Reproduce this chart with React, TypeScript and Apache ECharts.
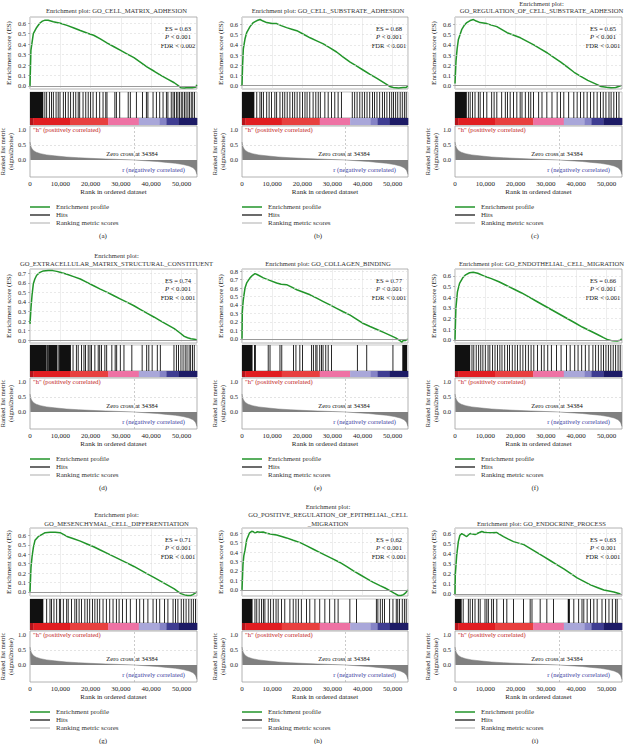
import React, { useEffect, useRef } from "react";
import * as echarts from "echarts";

// ---------------- data ----------------
const rankMax = 55100;
const xTickValues = [0, 10000, 20000, 30000, 40000, 50000];
const zeroCross = 34384;

// ranked list metric (rank in thousands, signal2noise)
const rankedMetric: number[][] = [
  [0, 0.6], [0.15, 0.5], [0.5, 0.4], [1.1, 0.32], [2.0, 0.26], [3.5, 0.21], [5.5, 0.17],
  [8.0, 0.14], [12.0, 0.1], [16.0, 0.075], [20.0, 0.055], [25.0, 0.035], [30.0, 0.015],
  [34.384, 0], [38.0, -0.025], [42.0, -0.05], [45.0, -0.08], [48.0, -0.11], [50.5, -0.15],
  [52.5, -0.2], [53.8, -0.26], [54.6, -0.34], [55.1, -0.48],
];

const colorBarEdges = [0, 1.1, 13.2, 25.8, 35.9, 42.7, 45.0, 49.0, 55.1];
const colorBarColors = ["#b3141b", "#e11d21", "#e8403f", "#ee72a4", "#a9a7d9", "#8583c6", "#3f3d92", "#1d1b66"];

const panelTitles = [
  "Enrichment plot: GO_CELL_MATRIX_ADHESION",
  "Enrichment plot: GO_CELL_SUBSTRATE_ADHESION",
  "Enrichment plot:\nGO_REGULATION_OF_CELL_SUBSTRATE_ADHESION",
  "Enrichment plot:\nGO_EXTRACELLULAR_MATRIX_STRUCTURAL_CONSTITUENT",
  "Enrichment plot: GO_COLLAGEN_BINDING",
  "Enrichment plot: GO_ENDOTHELIAL_CELL_MIGRATION",
  "Enrichment plot:\nGO_MESENCHYMAL_CELL_DIFFERENTIATION",
  "Enrichment plot:\nGO_POSITIVE_REGULATION_OF_EPITHELIAL_CELL\n_MIGRATION",
  "Enrichment plot: GO_ENDOCRINE_PROCESS",
];
const panelCaptions = ["(a)", "(b)", "(c)", "(d)", "(e)", "(f)", "(g)", "(h)", "(i)"];
const esScores = ["0.63", "0.68", "0.65", "0.74", "0.77", "0.66", "0.71", "0.62", "0.63"];
const pValues = ["0.001", "0.001", "0.001", "0.001", "0.001", "0.001", "0.001", "0.001", "0.001"];
const fdrValues = ["0.002", "0.001", "0.001", "0.001", "0.001", "0.001", "0.001", "0.001", "0.001"];
const esTickMax = [0.6, 0.6, 0.6, 0.7, 0.8, 0.6, 0.6, 0.6, 0.6];
const esAxisMin = [-0.03, -0.035, -0.035, -0.03, -0.05, -0.03, -0.045, -0.065, -0.02];
const esAxisMax = [0.66, 0.675, 0.675, 0.745, 0.825, 0.665, 0.68, 0.655, 0.655];
const legendLabels = ["Enrichment profile", "Hits", "Ranking metric scores"];

// running enrichment score curves (rank in thousands, ES)
const esA = [[0, 0.0], [0.3, 0.34], [1.1, 0.5], [2.2, 0.56], [3.2, 0.6], [4.1, 0.62], [5.0, 0.63], [6.0, 0.628], [7.7, 0.615], [10.0, 0.6], [12.2, 0.58], [14.5, 0.555], [16.6, 0.53], [19.0, 0.505], [21.0, 0.485], [23.2, 0.45], [25.5, 0.41], [27.7, 0.375], [29.9, 0.34], [32.1, 0.305], [34.3, 0.27], [36.5, 0.225], [38.7, 0.18], [41.0, 0.14], [43.2, 0.1], [45.4, 0.065], [47.6, 0.03], [48.8, 0.005], [49.8, -0.018], [51.0, -0.02], [52.0, -0.015], [53.5, -0.017], [54.8, -0.01], [55.0, 0.01]];
const esB = [[0, 0], [0.2, 0.2], [0.44, 0.36], [1.0, 0.46], [1.55, 0.52], [2.66, 0.58], [3.76, 0.62], [5.0, 0.64], [6.0, 0.65], [7.0, 0.635], [8.2, 0.62], [10.0, 0.612], [11.5, 0.61], [13.0, 0.59], [14.8, 0.57], [16.5, 0.555], [18.2, 0.54], [20.4, 0.505], [22.6, 0.47], [24.8, 0.44], [27.0, 0.41], [29.2, 0.37], [31.4, 0.33], [33.6, 0.28], [35.9, 0.23], [38.1, 0.19], [40.3, 0.15], [42.5, 0.11], [44.8, 0.07], [46.4, 0.04], [48.0, 0.01], [49.0, -0.01], [50.2, -0.02], [52.0, -0.025], [53.5, -0.02], [54.5, -0.02], [55.0, -0.005]];
const esC = [[0, 0.02], [0.33, 0.24], [0.7, 0.36], [1.1, 0.45], [2.2, 0.55], [3.0, 0.59], [3.9, 0.62], [5.0, 0.64], [6.1, 0.65], [7.0, 0.635], [8.3, 0.62], [10.5, 0.61], [12.0, 0.595], [13.8, 0.58], [15.5, 0.55], [17.2, 0.52], [19.4, 0.495], [21.6, 0.47], [23.8, 0.435], [26.0, 0.4], [28.2, 0.36], [30.5, 0.32], [32.7, 0.275], [34.9, 0.23], [37.1, 0.18], [39.3, 0.13], [41.5, 0.09], [43.8, 0.05], [46.0, 0.02], [48.2, -0.01], [50.0, -0.018], [51.5, -0.022], [53.0, -0.02], [54.0, -0.01], [54.8, 0.0]];
const esD = [[0, 0.17], [0.33, 0.34], [0.7, 0.48], [1.1, 0.59], [1.6, 0.64], [2.2, 0.68], [3.3, 0.71], [4.4, 0.725], [6.0, 0.73], [7.5, 0.728], [8.85, 0.72], [10.5, 0.705], [12.2, 0.69], [14.4, 0.665], [16.6, 0.64], [18.8, 0.605], [21.0, 0.57], [23.2, 0.535], [25.5, 0.5], [27.7, 0.465], [29.9, 0.43], [32.1, 0.395], [34.3, 0.36], [36.5, 0.32], [38.7, 0.28], [41.0, 0.24], [43.2, 0.2], [45.4, 0.16], [47.6, 0.12], [49.3, 0.08], [50.9, 0.04], [52.0, 0.025], [53.1, 0.015], [54.2, 0.01], [55.0, 0.005]];
const esE = [[0, 0.0], [0.11, 0.32], [0.4, 0.45], [0.66, 0.52], [1.0, 0.6], [1.55, 0.66], [2.66, 0.72], [3.5, 0.75], [4.3, 0.77], [5.0, 0.76], [7.1, 0.72], [9.2, 0.69], [11.5, 0.66], [13.0, 0.645], [14.8, 0.64], [16.5, 0.61], [18.2, 0.58], [20.4, 0.55], [22.6, 0.52], [24.8, 0.48], [27.0, 0.44], [29.2, 0.4], [31.4, 0.36], [33.6, 0.32], [35.9, 0.28], [38.1, 0.23], [40.3, 0.18], [42.5, 0.145], [44.8, 0.11], [47.0, 0.075], [49.2, 0.04], [51.0, 0.01], [52.3, -0.02], [53.1, -0.04], [53.5, -0.02], [54.2, -0.02], [55.0, -0.005]];
const esF = [[0, 0], [0.3, 0.3], [0.8, 0.45], [1.5, 0.53], [2.5, 0.58], [3.5, 0.61], [4.8, 0.63], [6.0, 0.635], [7.5, 0.625], [9.5, 0.6], [12.0, 0.575], [14.5, 0.545], [17.0, 0.51], [19.5, 0.475], [22.0, 0.44], [24.5, 0.4], [27.0, 0.36], [29.5, 0.32], [32.0, 0.28], [34.5, 0.24], [37.0, 0.2], [39.5, 0.16], [42.0, 0.12], [44.5, 0.085], [47.0, 0.05], [49.0, 0.02], [50.5, 0.0], [52.0, -0.01], [53.5, -0.012], [54.5, -0.005], [55.0, 0.01]];
const esG = [[0, 0], [0.33, 0.26], [0.7, 0.38], [1.1, 0.47], [1.66, 0.55], [2.77, 0.59], [3.87, 0.61], [4.98, 0.63], [6.64, 0.635], [8.3, 0.635], [9.96, 0.63], [12.2, 0.59], [14.4, 0.565], [16.6, 0.54], [18.8, 0.51], [21.0, 0.48], [23.2, 0.445], [25.5, 0.41], [27.7, 0.375], [29.9, 0.34], [32.1, 0.305], [34.3, 0.27], [36.5, 0.23], [38.7, 0.19], [41.0, 0.15], [43.2, 0.11], [45.4, 0.07], [47.6, 0.03], [48.7, 0.005], [49.8, -0.02], [51.0, -0.033], [52.0, -0.04], [53.0, -0.04], [53.7, -0.03], [54.5, -0.015], [55.0, 0.0]];
const esH = [[0, 0], [0.33, 0.27], [0.6, 0.36], [1.0, 0.42], [1.55, 0.53], [2.44, 0.6], [3.21, 0.62], [3.8, 0.615], [4.32, 0.6], [5.0, 0.615], [5.98, 0.61], [7.0, 0.612], [8.19, 0.6], [9.8, 0.59], [11.5, 0.58], [13.2, 0.565], [14.8, 0.55], [17.0, 0.525], [19.3, 0.5], [21.5, 0.465], [23.7, 0.43], [25.9, 0.395], [28.1, 0.36], [30.3, 0.325], [32.5, 0.29], [34.8, 0.245], [37.0, 0.2], [39.2, 0.16], [41.4, 0.12], [43.6, 0.08], [45.8, 0.045], [47.5, 0.02], [49.2, -0.01], [50.5, -0.035], [51.9, -0.06], [52.8, -0.06], [53.6, -0.05], [54.4, -0.03], [55.0, 0.0]];
const esI = [[0, 0.0], [0.1, 0.19], [0.55, 0.38], [1.1, 0.52], [1.6, 0.58], [2.21, 0.6], [2.8, 0.59], [3.32, 0.58], [3.87, 0.57], [4.4, 0.585], [4.98, 0.6], [5.8, 0.595], [6.64, 0.59], [7.7, 0.605], [8.85, 0.62], [9.6, 0.612], [10.5, 0.61], [12.2, 0.608], [13.8, 0.61], [14.9, 0.59], [16.0, 0.57], [17.6, 0.545], [19.3, 0.52], [21.0, 0.505], [22.7, 0.49], [24.9, 0.45], [27.1, 0.41], [29.3, 0.37], [31.5, 0.33], [33.7, 0.29], [35.9, 0.25], [38.1, 0.205], [40.3, 0.16], [42.5, 0.125], [44.7, 0.09], [46.9, 0.065], [49.1, 0.04], [50.8, 0.03], [52.4, 0.02], [53.5, 0.01], [54.6, 0.0]];
const esCurves = [esA, esB, esC, esD, esE, esF, esG, esH, esI];

// hit positions (rank in thousands): single lines and solid blocks
const hitsA = [4.9, 5.5, 6.4, 7.1, 7.7, 8.6, 9.3, 9.9, 11.0, 11.7, 12.6, 13.4, 14.3, 15.1, 15.9, 16.4, 17.5, 18.4, 19.2, 20.0, 20.8, 21.9, 23.0, 24.1, 25.0, 25.4, 28.0, 28.5, 29.6, 32.4, 33.1, 35.1, 37.1, 38.4, 38.9, 40.6, 41.7, 42.8, 43.9, 45.0, 45.5, 46.6, 47.2, 47.7, 48.3, 48.8, 49.3, 49.9, 50.4, 51.0, 51.5, 52.1, 52.6, 53.2, 53.7, 54.3];
const blocksA = [[0, 4.4]];
const hitsB = [4.9, 5.96, 6.5, 7.1, 8.2, 9.0, 9.8, 10.9, 11.5, 12.6, 13.5, 14.2, 15.0, 15.9, 16.8, 17.5, 18.3, 19.2, 20.1, 20.9, 21.6, 22.5, 23.6, 24.5, 25.3, 26.0, 27.5, 28.6, 29.7, 30.8, 31.9, 33.0, 36.6, 37.4, 38.2, 39.1, 39.9, 40.7, 41.5, 42.4, 43.3, 44.0, 44.8, 45.7, 46.6, 47.3, 48.1, 49.0, 49.7, 50.3, 51.0, 51.7, 52.5, 53.2, 53.9, 54.5];
const blocksB = [[0, 4.1]];
const hitsC = [4.4, 5.0, 5.8, 6.6, 7.7, 8.3, 9.4, 10.5, 12.1, 12.9, 13.8, 15.4, 16.6, 17.3, 18.2, 19.3, 20.4, 21.5, 22.1, 23.2, 24.3, 25.0, 25.9, 27.6, 28.7, 30.3, 32.0, 33.7, 34.8, 35.9, 37.5, 39.2, 40.3, 41.4, 42.5, 43.6, 44.7, 45.8, 46.9, 48.0, 48.9, 49.8, 50.8, 51.5, 52.4, 53.3, 54.1];
const blocksC = [[0, 3.9]];
const hitsD = [5.8, 9.3, 14.2, 15.3, 15.9, 17.0, 17.8, 18.3, 19.2, 19.8, 20.3, 21.4, 22.5, 23.0, 23.6, 24.7, 25.3, 27.0, 28.1, 28.6, 29.8, 31.0, 33.6, 37.0, 38.5, 39.2, 40.3, 42.0, 43.0, 47.5, 48.3, 49.0, 49.8, 50.5, 51.2, 51.8, 52.5, 53.0, 53.6, 54.2];
const blocksD = [[0, 5.5], [6.0, 9.0], [9.6, 13.5]];
const hitsE = [8.7, 9.3, 12.6, 13.2, 17.1, 17.9, 19.2, 20.1, 23.1, 23.7, 24.5, 24.9, 25.8, 26.4, 26.9, 27.8, 28.6, 29.7, 38.3, 41.4, 50.1];
const blocksE = [[0, 3.5], [4.0, 4.6], [53.2, 54.8]];
const hitsF = [5.6, 6.2, 7.0, 7.8, 8.5, 9.2, 10.0, 10.9, 11.5, 12.4, 13.2, 14.0, 14.8, 15.5, 16.4, 17.3, 18.0, 18.9, 19.8, 20.6, 21.5, 22.4, 23.3, 24.2, 25.1, 26.0, 27.2, 28.5, 29.4, 30.6, 31.8, 33.5, 35.0, 36.8, 38.0, 39.5, 40.6, 41.8, 43.0, 44.2, 45.5, 46.4, 47.3, 48.2, 49.0, 49.8, 50.6, 51.4, 52.2, 53.0, 53.8, 54.5];
const blocksF = [[0, 5.0]];
const hitsG = [5.5, 6.6, 7.1, 7.9, 8.8, 9.7, 10.1, 11.0, 12.1, 12.6, 13.7, 14.8, 15.4, 16.2, 17.0, 18.1, 18.9, 19.7, 20.6, 21.4, 22.2, 23.0, 24.1, 25.2, 26.3, 27.4, 28.5, 29.4, 30.5, 31.8, 33.1, 35.1, 36.2, 37.5, 38.9, 40.6, 41.7, 42.8, 44.4, 45.5, 47.2, 48.0, 48.8, 49.9, 50.7, 51.5, 52.4, 53.2, 53.9, 54.6];
const blocksG = [[0, 4.4]];
const hitsH = [4.3, 4.9, 5.7, 6.5, 7.1, 7.6, 8.7, 9.5, 10.4, 11.3, 12.0, 13.1, 14.2, 15.9, 17.0, 17.9, 18.7, 19.7, 21.4, 22.5, 24.2, 25.8, 27.5, 29.1, 30.8, 31.9, 35.8, 38.0, 44.6, 45.1, 45.9, 46.6, 47.3, 49.0, 50.1, 51.2, 51.7, 52.3, 53.2, 53.9, 54.5];
const blocksH = [[0, 3.5]];
const hitsI = [2.7, 4.4, 5.0, 5.8, 6.6, 7.7, 8.3, 9.9, 10.5, 11.0, 12.1, 12.7, 13.8, 16.0, 17.1, 19.3, 22.6, 24.8, 25.4, 28.1, 30.3, 32.5, 39.2, 40.8, 41.9, 42.5, 43.6, 44.7, 45.8, 46.9, 48.5, 49.7, 50.8, 51.9, 53.0, 53.5];
const blocksI = [[0, 2.2], [37.2, 37.9]];
const hitLines = [hitsA, hitsB, hitsC, hitsD, hitsE, hitsF, hitsG, hitsH, hitsI];
const hitBlocks = [blocksA, blocksB, blocksC, blocksD, blocksE, blocksF, blocksG, blocksH, blocksI];

// ---------------- layout / style ----------------
const FONT = "'Liberation Serif', 'DejaVu Serif', serif";
const TXT = "#222";
const cols = [{ l: 30, r: 197 }, { l: 242, r: 408 }, { l: 455, r: 622 }];
const rowEs = [[17, 89], [269, 343], [528, 596]];
const rowHits = [[92, 118], [345, 371], [599, 623]];
const rowColor = [[118, 125], [371, 377], [623, 630]];
const rowRanked = [[126, 177], [378, 429], [631, 682]];
const titleBottom = [14.5, 267, 527.3];
const titleLH = [7.5, 8, 8.5];
const captionX = [103, 318, 535];
const legendColors = ["#22952a", "#3a3a3a", "#c8c8c8"];

const fmtThousands = (v: number) => String(Math.round(v)).replace(/\B(?=(\d{3})+(?!\d))/g, ",");

function buildOption() {
  const grid: any[] = [];
  const xAxis: any[] = [];
  const yAxis: any[] = [];
  const series: any[] = [];
  const graphic: any[] = [];

  const addGrid = (l: number, r: number, t: number, b: number, border: string) => {
    grid.push({
      left: l, top: t, width: r - l, height: b - t, show: true,
      borderColor: border, borderWidth: 0.8, backgroundColor: "transparent",
      containLabel: false, outerBoundsMode: "none",
    });
    return grid.length - 1;
  };
  const mkX = (gi: number, extra: any = {}) => ({
    type: "value", gridIndex: gi, min: 0, max: rankMax, interval: 10000,
    axisLine: { show: false }, axisTick: { show: false }, axisLabel: { show: false },
    splitLine: { show: false }, ...extra,
  });
  const text = (x: number, y: number, t: string, st: any = {}) => {
    graphic.push({
      type: "text", x, y, silent: true,
      style: {
        text: t, fontSize: 7, fontFamily: FONT, fill: TXT,
        align: "center", textAlign: "center", verticalAlign: "middle", textVerticalAlign: "middle",
        ...st,
      },
    });
  };

  for (let p = 0; p < 9; p++) {
    const c = cols[p % 3];
    const row = Math.floor(p / 3);

    // ---- enrichment score panel ----
    const gEs = addGrid(c.l, c.r, rowEs[row][0], rowEs[row][1], "#a0a0a0");
    xAxis.push(mkX(gEs, { splitLine: { show: true, lineStyle: { color: "#e2e2e2", width: 0.6 } } }));
    const nT = Math.round(esTickMax[p] * 10);
    const esTicks = Array.from({ length: nT + 1 }, (_, i) => i / 10);
    yAxis.push({
      type: "value", gridIndex: gEs, min: esAxisMin[p], max: esAxisMax[p],
      axisLine: { show: false },
      axisTick: { show: true, customValues: esTicks, length: 2, lineStyle: { color: "#888", width: 0.6 } },
      axisLabel: { customValues: esTicks, formatter: (v: number) => v.toFixed(1), fontSize: 6.5, fontFamily: FONT, color: TXT, margin: 4 },
      splitLine: { show: false },
      name: "Enrichment score (ES)", nameLocation: "middle", nameGap: 18, nameRotate: 90,
      nameTextStyle: { fontSize: 7, fontFamily: FONT, color: TXT },
    });
    series.push({
      type: "line", xAxisIndex: gEs, yAxisIndex: gEs, silent: true,
      data: esCurves[p].map(([k, v]) => [k * 1000, v]),
      symbol: "none", z: 3,
      lineStyle: { color: "#22952a", width: 1.5 },
      markLine: {
        silent: true, symbol: ["none", "none"], label: { show: false },
        data: [
          ...esTicks.slice(1).map((v) => ({ yAxis: v, lineStyle: { color: "#dadada", width: 0.6, type: [2, 2] } })),
          { yAxis: 0, lineStyle: { color: "#9a9a9a", width: 1, type: "solid" } },
        ],
      },
    });

    // ---- hits ----
    const gHits = addGrid(c.l, c.r, rowHits[row][0], rowHits[row][1], "#b8b8b8");
    xAxis.push(mkX(gHits));
    yAxis.push({ type: "value", gridIndex: gHits, min: 0, max: 1, show: false });
    const hitData = [
      ...hitLines[p].map((k) => [k * 1000, k * 1000, 0.5]),
      ...hitBlocks[p].map(([a, b]) => [a * 1000, b * 1000, 0.5]),
    ];
    series.push({
      type: "custom", xAxisIndex: gHits, yAxisIndex: gHits, silent: true,
      data: hitData, encode: { x: [0, 1], y: 2 },
      renderItem: (_: any, api: any) => {
        const a = api.value(0), b = api.value(1);
        const p0 = api.coord([a, 1]);
        const p1 = api.coord([b, 0]);
        const single = b - a < 1;
        const w = single ? 0.9 : Math.max(p1[0] - p0[0], 0.9);
        return {
          type: "rect",
          shape: { x: single ? p0[0] - 0.45 : p0[0], y: p0[1], width: w, height: p1[1] - p0[1] },
          style: { fill: "#111" },
        };
      },
    });

    // ---- color bar ----
    const gCol = addGrid(c.l, c.r, rowColor[row][0], rowColor[row][1], "#b8b8b8");
    xAxis.push(mkX(gCol));
    yAxis.push({ type: "value", gridIndex: gCol, min: 0, max: 1, show: false });
    series.push({
      type: "custom", xAxisIndex: gCol, yAxisIndex: gCol, silent: true,
      data: colorBarColors.map((_, i) => [colorBarEdges[i] * 1000, colorBarEdges[i + 1] * 1000, 0.5, i]),
      encode: { x: [0, 1], y: 2 },
      renderItem: (_: any, api: any) => {
        const p0 = api.coord([api.value(0), 1]);
        const p1 = api.coord([api.value(1), 0]);
        return {
          type: "rect",
          shape: { x: p0[0], y: p0[1], width: p1[0] - p0[0] + 0.3, height: p1[1] - p0[1] },
          style: { fill: colorBarColors[api.value(3)] },
        };
      },
    });

    // ---- ranked list metric ----
    const gRk = addGrid(c.l, c.r, rowRanked[row][0], rowRanked[row][1], "#a0a0a0");
    xAxis.push(mkX(gRk, {
      axisLabel: { show: true, customValues: xTickValues, formatter: fmtThousands, fontSize: 7, fontFamily: FONT, color: TXT, margin: 3 },
      name: "Rank in ordered dataset", nameLocation: "middle", nameGap: 11,
      nameTextStyle: { fontSize: 7, fontFamily: FONT, color: TXT },
    }));
    yAxis.push({
      type: "value", gridIndex: gRk, min: -0.567, max: 1.133,
      axisLine: { show: false }, axisTick: { show: false },
      axisLabel: { customValues: [0, 0.5, 1], formatter: (v: number) => v.toFixed(1), fontSize: 6.5, fontFamily: FONT, color: TXT, margin: 4 },
      splitLine: { show: false },
      name: "Ranked list metric\n(signal2noise)", nameLocation: "middle", nameGap: 13, nameRotate: 90,
      nameTextStyle: { fontSize: 6.5, lineHeight: 7.5, fontFamily: FONT, color: TXT },
    });
    series.push({
      type: "line", xAxisIndex: gRk, yAxisIndex: gRk, silent: true,
      data: rankedMetric.map(([k, v]) => [k * 1000, v]),
      symbol: "none",
      lineStyle: { color: "#7a7a7a", width: 0.5 },
      areaStyle: { color: "#808080", opacity: 1 },
      markLine: {
        silent: true, symbol: ["none", "none"], label: { show: false },
        data: [
          { yAxis: 0.5, lineStyle: { color: "#d0d0d0", width: 0.6, type: [2, 2] } },
          { xAxis: zeroCross, lineStyle: { color: "#a8a8a8", width: 0.6, type: [2, 2] } },
        ],
      },
    });

    // ---- texts ----
    text((c.l + c.r) / 2 + 3, titleBottom[row], panelTitles[p], {
      fontSize: 6.6, verticalAlign: "bottom", textVerticalAlign: "bottom", lineHeight: titleLH[row], fill: "#333",
    });
    const esTop = rowEs[row][0];
    const statStyle = { fill: "#111", fontSize: 6.6, rich: { i: { fontStyle: "italic", fontSize: 6.6, fontFamily: FONT, fill: "#111" } } };
    text(c.r - 19, esTop + 11, `ES = ${esScores[p]}`, statStyle);
    text(c.r - 19, esTop + 19.5, `{i|P} < ${pValues[p]}`, statStyle);
    text(c.r - 19, esTop + 28, `FDR < ${fdrValues[p]}`, statStyle);

    const rTop = rowRanked[row][0];
    const rBot = rowRanked[row][1];
    text(c.l + 3, rTop + 3.5, '"h" (positively correlated)', { fontSize: 6.5, fill: "#c0181c", align: "left", textAlign: "left" });
    text(c.l + 102, rTop + 27, `Zero cross at ${zeroCross}`, { fontSize: 6.5, fill: "#111" });
    text(c.r - 12, rTop + 43, "r (negatively correlated)", { fontSize: 6.5, fill: "#3b3ba0", align: "right", textAlign: "right" });

    legendLabels.forEach((lab, i) => {
      const y = rBot + 30 + i * 8;
      graphic.push({
        type: "line", silent: true,
        shape: { x1: c.l, y1: y, x2: c.l + 20, y2: y },
        style: { stroke: legendColors[i], lineWidth: 1.5 },
      });
      text(c.l + 26, y, lab, { align: "left", textAlign: "left", fill: "#333" });
    });
    text(captionX[p % 3], rBot + 59, panelCaptions[p]);
  }

  return {
    animation: false,
    backgroundColor: "#ffffff",
    grid, xAxis, yAxis, series, graphic,
  };
}

export default function App() {
  const ref = useRef<HTMLDivElement>(null);
  useEffect(() => {
    if (!ref.current) return;
    const chart = echarts.init(ref.current, null, { renderer: "svg" });
    chart.setOption(buildOption() as any);
    return () => chart.dispose();
  }, []);
  return (
    <div
      ref={ref}
      style={{ position: "absolute", left: 0, top: 0, width: 630, height: 744, background: "#fff" }}
    />
  );
}
